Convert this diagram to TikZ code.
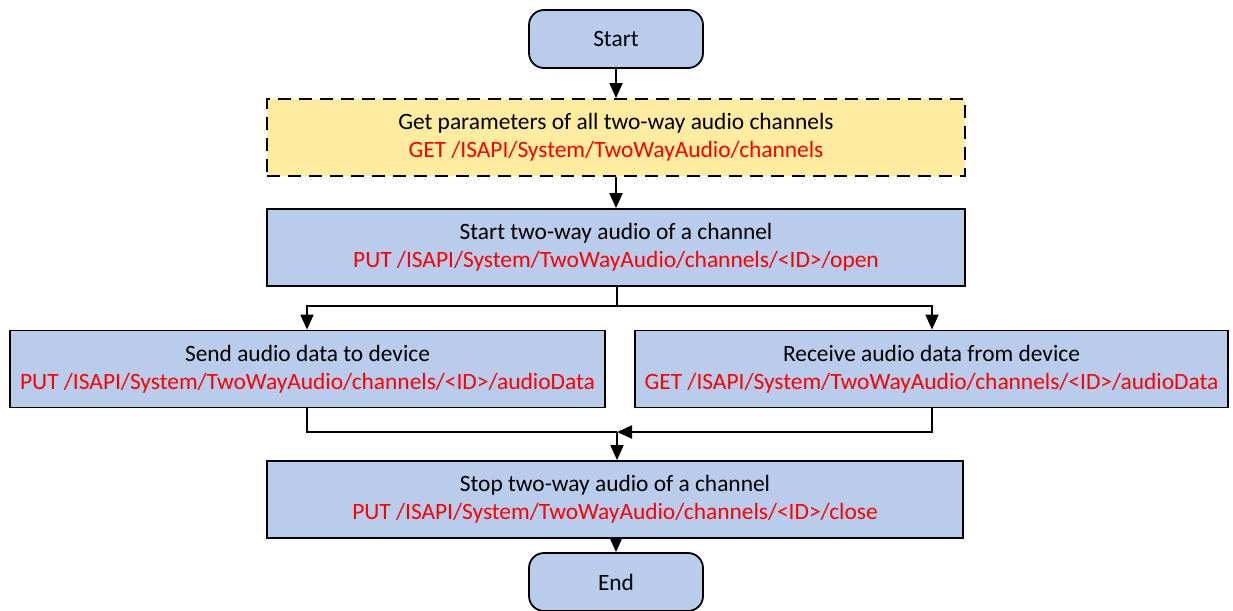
\documentclass[tikz,border=0pt]{standalone}
\usepackage{fontspec}
\setmainfont{Carlito}
\usetikzlibrary{arrows.meta}
\definecolor{boxblue}{RGB}{185,204,236}
\definecolor{boxyellow}{RGB}{255,236,160}
\tikzset{
  box/.style={draw=black, line width=1.8pt, fill=boxblue, minimum height=77pt, inner sep=0pt, align=center, font=\fontsize{23.4}{28}\selectfont},
  term/.style={box, rounded corners=15pt, minimum width=174pt, minimum height=58pt},
  dbox/.style={box, fill=boxyellow, dash pattern=on 13pt off 8pt},
  conn/.style={line width=1.8pt, -{Triangle[width=13pt,length=15pt]}},
  plain/.style={line width=1.8pt},
  api/.style={text=red}
}
\begin{document}
\begin{tikzpicture}[x=1pt,y=-1pt]
\useasboundingbox (0,0) rectangle (1233,610);
\node[term] (start) at (616,39) {Start};
\node[dbox, minimum width=698pt] (params) at (616,137.5) {Get parameters of all two-way audio channels\\ \textcolor{red}{GET /ISAPI/System/TwoWayAudio/channels}};
\node[box, minimum width=698pt] (open) at (616,247.5) {Start two-way audio of a channel\\ \textcolor{red}{PUT /ISAPI/System/TwoWayAudio/channels/<ID>/open}};
\node[box, minimum width=595pt] (send) at (307.5,369) {Send audio data to device\\ \textcolor{red}{PUT /ISAPI/System/TwoWayAudio/channels/<ID>/audioData}};
\node[box, minimum width=593pt] (recv) at (931.5,369) {Receive audio data from device\\ \textcolor{red}{GET /ISAPI/System/TwoWayAudio/channels/<ID>/audioData}};
\node[box, minimum width=696pt] (stop) at (615,499.5) {Stop two-way audio of a channel\\ \textcolor{red}{PUT /ISAPI/System/TwoWayAudio/channels/<ID>/close}};
\node[term] (end) at (616,582) {End};
\coordinate (split) at (617,306);
\coordinate (merge) at (617,432);
\draw[conn] (start) -- (params);
\draw[conn] (params) -- (open);
\draw[plain] (open.south -| split) -- (split);
\draw[conn] (split) -| (send.north -| 307,0);
\draw[conn] (split) -| (recv.north -| 932,0);
\draw[plain] (send.south -| 307,0) |- (merge);
\draw[conn] (recv.south -| 932,0) |- (merge);
\draw[conn] (merge) -- (stop.north -| merge);
\draw[conn] (stop.south -| end) -- (end);
\end{tikzpicture}
\end{document}
